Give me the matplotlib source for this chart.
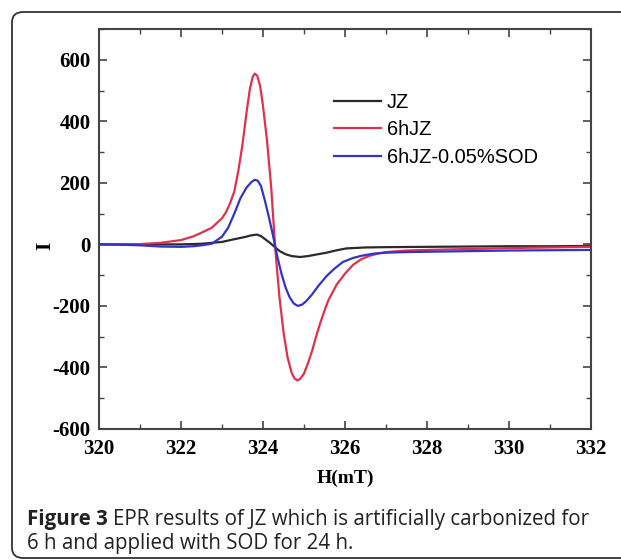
import matplotlib
matplotlib.use("Agg")
import matplotlib.pyplot as plt
from matplotlib.patches import FancyBboxPatch
from matplotlib.ticker import MultipleLocator

# ---- data ----
h_jz = [320.0, 321.0, 322.0, 322.5, 323.0, 323.27, 323.56, 323.7, 323.85, 323.95,
        324.05, 324.17, 324.3, 324.41, 324.55, 324.7, 324.9, 325.1, 325.3, 325.55,
        325.8, 326.04, 326.5, 327.0, 328.0, 329.0, 330.0, 331.0, 332.0]
i_jz = [0, 0, 0, 2, 8, 16, 24, 29, 32, 27,
        17, 5, -10, -22, -32, -38, -41, -38, -33, -27,
        -19, -13, -10, -9, -8, -7, -6, -6, -5]

h_6hjz = [320.0, 320.5, 321.0, 321.5, 322.0, 322.3, 322.5, 322.75, 323.0, 323.1,
          323.2, 323.3, 323.4, 323.5, 323.6, 323.68, 323.75, 323.8, 323.86, 323.93,
          324.0, 324.1, 324.2, 324.3, 324.4, 324.5, 324.6, 324.7, 324.77, 324.84,
          324.9, 325.0, 325.1, 325.2, 325.3, 325.4, 325.5, 325.6, 325.8, 326.0,
          326.2, 326.4, 326.6, 326.8, 327.0, 327.5, 328.0, 329.0, 330.0, 331.0,
          332.0]
i_6hjz = [0, 0, 1, 5, 14, 26, 38, 54, 85, 105,
          135, 172, 240, 325, 430, 505, 545, 555, 548, 515,
          450, 335, 185, -15, -170, -285, -368, -418, -436, -442,
          -438, -420, -385, -345, -297, -254, -215, -180, -130, -95,
          -66, -48, -37, -30, -25, -20, -18, -15, -12, -10,
          -8]

h_sod = [320.0, 320.5, 321.0, 321.5, 322.0, 322.3, 322.5, 322.75, 323.0, 323.15,
         323.3, 323.45, 323.6, 323.72, 323.8, 323.87, 323.95, 324.05, 324.15, 324.25,
         324.35, 324.45, 324.55, 324.65, 324.75, 324.85, 324.95, 325.05, 325.2, 325.35,
         325.55, 325.75, 325.95, 326.2, 326.4, 326.7, 327.0, 327.5, 328.0, 329.0,
         330.0, 331.0, 332.0]
i_sod = [0, -1, -3, -7, -8, -6, -3, 2, 25, 54,
         100, 150, 185, 203, 210, 207, 190, 140, 85, 25,
         -40, -95, -140, -172, -192, -200, -196, -185, -162, -135,
         -103, -78, -57, -44, -37, -30, -27, -25, -24, -22,
         -20, -19, -18]

labels = ["JZ", "6hJZ", "6hJZ-0.05%SOD"]
colors = ["#2a2a2a", "#e0304c", "#3333cc"]
x_ticks = [320, 322, 324, 326, 328, 330, 332]
y_ticks = [-600, -400, -200, 0, 200, 400, 600]

W, H = 621, 560
fig = plt.figure(figsize=(W / 100, H / 100), dpi=100)
fig.patch.set_facecolor("white")

# rounded frame around figure + caption
border = FancyBboxPatch((12 / W, 2 / H), (660 - 12) / W, (548 - 2) / H,
                        boxstyle="round,pad=0,rounding_size=0.018",
                        transform=fig.transFigure, facecolor="none",
                        edgecolor="#333333", linewidth=1.3, clip_on=False)
fig.patches.append(border)

ax = fig.add_axes([99 / W, 1 - 429 / H, (591 - 99) / W, (429 - 29) / H])
for h, i, lab, c in zip([h_jz, h_6hjz, h_sod], [i_jz, i_6hjz, i_sod], labels, colors):
    ax.plot(h, i, color=c, lw=1.6, label=lab, solid_joinstyle="round")

ax.set_xlim(320, 332)
ax.set_ylim(-600, 700)
ax.set_xticks(x_ticks)
ax.set_yticks(y_ticks)
ax.xaxis.set_minor_locator(MultipleLocator(1))
ax.yaxis.set_minor_locator(MultipleLocator(100))
tickfont = dict(family="Liberation Serif", weight="bold", size=15)
ax.set_xticklabels([str(v) for v in x_ticks], fontdict=tickfont)
ax.set_yticklabels([str(v) for v in y_ticks], fontdict=tickfont)
ax.tick_params(which="both", direction="in", top=True, right=True, color="#444444")
ax.tick_params(which="major", length=6, width=1.2)
ax.tick_params(which="minor", length=3.5, width=1.0)
ax.tick_params(axis="x", which="major", pad=7)
ax.tick_params(axis="y", which="major", pad=6)
for s in ax.spines.values():
    s.set_color("#444444")
    s.set_linewidth(1.5)

ax.set_xlabel("H(mT)", family="Liberation Serif", weight="bold", size=14, labelpad=8)
ax.set_ylabel("I", family="Liberation Serif", weight="bold", size=15)
ax.yaxis.set_label_coords((55 - 99) / 492, (429 - 246) / 400)

leg = ax.legend(loc="upper left", bbox_to_anchor=((334 - 99) / 492, (429 - 93) / 400),
                frameon=False, borderpad=0, borderaxespad=0, handlelength=2.35,
                handletextpad=0.3, labelspacing=0.42,
                prop=dict(family="Liberation Sans", size=14.4))

# caption
renderer = fig.canvas.get_renderer()
capfont = ["Open Sans", "DejaVu Sans"]
t1 = fig.text(27 / W, 1 - 520 / H, "Figure 3", family=capfont, weight="bold",
              size=14.8, va="center", ha="left", color="#222222")
bb = t1.get_window_extent(renderer=renderer)
fig.text((bb.x1 + 5) / W, 1 - 520 / H,
         "EPR results of JZ which is artificially carbonized for",
         family=capfont, size=14.8, va="center", ha="left", color="#222222")
fig.text(27 / W, 1 - 544 / H, "6 h and applied with SOD for 24 h.",
         family=capfont, size=14.8, va="center", ha="left", color="#222222")

fig.savefig("out.png", dpi=100)
